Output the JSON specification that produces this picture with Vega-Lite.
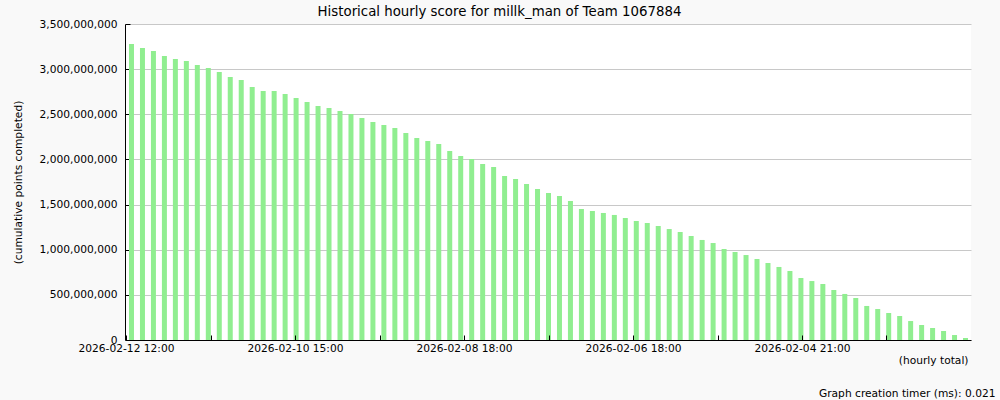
{
  "$schema": "https://vega.github.io/schema/vega-lite/v6.json",
  "width": 845,
  "height": 316,
  "autosize": {"type": "none"},
  "padding": {"left": 126, "top": 24, "right": 29, "bottom": 60},
  "background": "#f9f9f9",
  "config": {
    "view": {"fill": "white", "stroke": null},
    "axis": {
      "labelFont": "DejaVu Sans",
      "titleFont": "DejaVu Sans",
      "labelFontSize": 10.67,
      "titleFontSize": 10.67,
      "titleFontWeight": "normal",
      "labelColor": "#000000",
      "titleColor": "#000000",
      "domainColor": "#000000",
      "tickColor": "#000000"
    }
  },
  "data": {
    "values": [
      {"slot": 0, "score": 3278000000},
      {"slot": 1, "score": 3234000000},
      {"slot": 2, "score": 3201000000},
      {"slot": 3, "score": 3146000000},
      {"slot": 4, "score": 3112000000},
      {"slot": 5, "score": 3090000000},
      {"slot": 6, "score": 3046000000},
      {"slot": 7, "score": 3013000000},
      {"slot": 8, "score": 2968000000},
      {"slot": 9, "score": 2913000000},
      {"slot": 10, "score": 2880000000},
      {"slot": 11, "score": 2802000000},
      {"slot": 12, "score": 2758000000},
      {"slot": 13, "score": 2758000000},
      {"slot": 14, "score": 2725000000},
      {"slot": 15, "score": 2680000000},
      {"slot": 16, "score": 2636000000},
      {"slot": 17, "score": 2592000000},
      {"slot": 18, "score": 2570000000},
      {"slot": 19, "score": 2536000000},
      {"slot": 20, "score": 2503000000},
      {"slot": 21, "score": 2459000000},
      {"slot": 22, "score": 2415000000},
      {"slot": 23, "score": 2381000000},
      {"slot": 24, "score": 2348000000},
      {"slot": 25, "score": 2293000000},
      {"slot": 26, "score": 2237000000},
      {"slot": 27, "score": 2204000000},
      {"slot": 28, "score": 2171000000},
      {"slot": 29, "score": 2093000000},
      {"slot": 30, "score": 2038000000},
      {"slot": 31, "score": 2005000000},
      {"slot": 32, "score": 1949000000},
      {"slot": 33, "score": 1916000000},
      {"slot": 34, "score": 1816000000},
      {"slot": 35, "score": 1783000000},
      {"slot": 36, "score": 1728000000},
      {"slot": 37, "score": 1672000000},
      {"slot": 38, "score": 1628000000},
      {"slot": 39, "score": 1595000000},
      {"slot": 40, "score": 1540000000},
      {"slot": 41, "score": 1451000000},
      {"slot": 42, "score": 1429000000},
      {"slot": 43, "score": 1407000000},
      {"slot": 44, "score": 1385000000},
      {"slot": 45, "score": 1351000000},
      {"slot": 46, "score": 1318000000},
      {"slot": 47, "score": 1296000000},
      {"slot": 48, "score": 1263000000},
      {"slot": 49, "score": 1229000000},
      {"slot": 50, "score": 1196000000},
      {"slot": 51, "score": 1152000000},
      {"slot": 52, "score": 1108000000},
      {"slot": 53, "score": 1074000000},
      {"slot": 54, "score": 1008000000},
      {"slot": 55, "score": 975000000},
      {"slot": 56, "score": 941000000},
      {"slot": 57, "score": 897000000},
      {"slot": 58, "score": 853000000},
      {"slot": 59, "score": 809000000},
      {"slot": 60, "score": 764000000},
      {"slot": 61, "score": 687000000},
      {"slot": 62, "score": 653000000},
      {"slot": 63, "score": 620000000},
      {"slot": 64, "score": 554000000},
      {"slot": 65, "score": 510000000},
      {"slot": 66, "score": 465000000},
      {"slot": 67, "score": 377000000},
      {"slot": 68, "score": 343000000},
      {"slot": 69, "score": 299000000},
      {"slot": 70, "score": 266000000},
      {"slot": 71, "score": 210000000},
      {"slot": 72, "score": 166000000},
      {"slot": 73, "score": 133000000},
      {"slot": 74, "score": 100000000},
      {"slot": 75, "score": 55000000},
      {"slot": 76, "score": 22000000}
    ]
  },
  "layer": [
    {
      "mark": {"type": "bar", "color": "#90ee90", "width": 5},
      "encoding": {
        "x": {
          "field": "slot",
          "type": "quantitative",
          "scale": {"domain": [-0.5, 76.5], "nice": false, "zero": false, "padding": 0},
          "axis": {
            "orient": "bottom",
            "values": [-0.5, 7.2, 14.9, 22.6, 30.3, 38, 45.7, 53.4, 61.1, 68.8],
            "labelExpr": "['2026-02-12 12:00','','2026-02-10 15:00','','2026-02-08 18:00','','2026-02-06 18:00','','2026-02-04 21:00',''][round((datum.value+0.5)/7.7)]",
            "tickSize": -5,
            "labelPadding": 8,
            "labelDx": 4,
            "labelFlush": false,
            "labelOverlap": false,
            "labelBound": false,
            "grid": false,
            "zindex": 1,
            "title": "(hourly total)",
            "titleX": 842,
            "titleY": 23,
            "titleAlign": "right",
            "titleBaseline": "alphabetic"
          }
        },
        "y": {
          "field": "score",
          "type": "quantitative",
          "scale": {"domain": [0, 3500000000], "nice": false},
          "axis": {
            "orient": "left",
            "values": [0, 500000000, 1000000000, 1500000000, 2000000000, 2500000000, 3000000000, 3500000000],
            "format": ",.0f",
            "formatType": "number",
            "tickSize": -5,
            "labelPadding": 13,
            "offset": 1,
            "grid": true,
            "gridColor": "#c8c8c8",
            "gridOpacity": 1,
            "title": "(cumulative points completed)",
            "titleAngle": -90,
            "titleX": -107,
            "titleY": 158,
            "titleAlign": "center",
            "titleBaseline": "middle"
          }
        }
      }
    },
    {
      "mark": {"type": "bar", "opacity": 0, "width": 5},
      "encoding": {
        "x": {
          "field": "slot",
          "type": "quantitative",
          "scale": {"domain": [-0.5, 76.5], "nice": false, "zero": false, "padding": 0},
          "axis": {
            "orient": "top",
            "domain": false,
            "ticks": false,
            "labels": false,
            "grid": false,
            "title": "Historical hourly score for millk_man of Team 1067884",
            "titleFontSize": 13.33,
            "titleX": 373,
            "titleY": -9,
            "titleAlign": "center",
            "titleBaseline": "alphabetic"
          }
        },
        "y": {
          "field": "score",
          "type": "quantitative",
          "scale": {"domain": [0, 3500000000], "nice": false},
          "axis": {
            "orient": "right",
            "domain": false,
            "ticks": false,
            "labels": false,
            "grid": false,
            "title": "Graph creation timer (ms): 0.021",
            "titleAngle": 0,
            "titleX": 24,
            "titleY": 372,
            "titleAlign": "right",
            "titleBaseline": "alphabetic"
          }
        }
      }
    }
  ],
  "resolve": {
    "scale": {"x": "independent", "y": "independent"},
    "axis": {"x": "independent", "y": "independent"}
  }
}
